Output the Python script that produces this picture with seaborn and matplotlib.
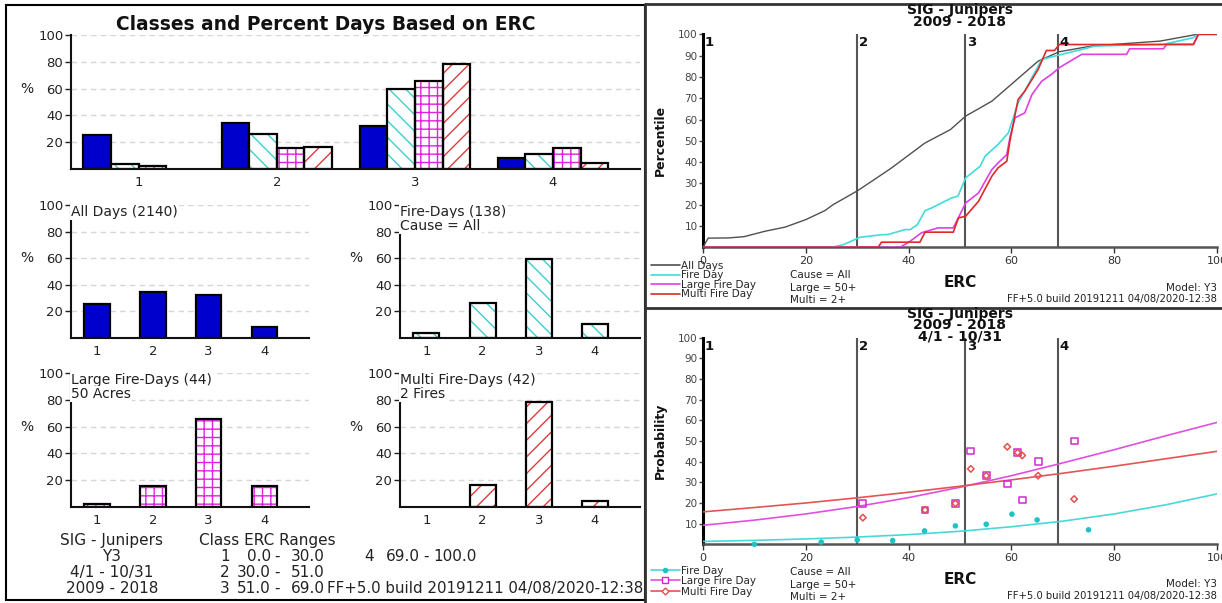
import matplotlib
matplotlib.use("Agg")
import matplotlib.pyplot as plt
from matplotlib.lines import Line2D
from matplotlib.patches import Rectangle
import pandas as pd
import seaborn as sns

# ---------------- data ----------------
station = "SIG - Junipers"
model = "Y3"
season = "4/1 - 10/31"
years = "2009 - 2018"
build_tag = "FF+5.0 build 20191211 04/08/2020-12:38"
large_acres = 50
multi_fires = 2

classes = ["1", "2", "3", "4"]
class_breaks = [0.0, 30.0, 51.0, 69.0, 100.0]

n_all_days = 2140
n_fire_days = 138
n_large_fire = 44
n_multi_fire = 42

# percent of days falling in each ERC class
pct_all_days = [25.5, 34.3, 32.0, 8.2]
pct_fire_days = [3.6, 26.1, 59.4, 10.9]
pct_large_fire = [2.3, 15.9, 65.9, 15.9]
pct_multi_fire = [0.0, 16.7, 78.6, 4.8]

# cumulative percentile vs ERC
erc_all = [0, 1, 5, 8, 12, 16, 20, 23.7, 25.3, 30.1, 35.3, 36.7, 43.2, 48.1,
           51.1, 56.2, 60.7, 65.2, 69.3, 75.6, 88.9, 96.2, 97.5]
pctl_all = [0, 4.3, 4.4, 5.0, 7.5, 9.5, 13.0, 17.2, 20.0, 26.6, 35.0, 37.3,
            49.0, 55.2, 61.6, 68.6, 78.0, 87.4, 91.8, 94.5, 96.8, 100, 100]

erc_fire = [0, 25.0, 27.4, 30.5, 34.8, 36.0, 39.3, 40.3, 41.7, 43.2, 44.6,
            46.4, 48.4, 49.6, 51.1, 53.9, 54.9, 57.4, 59.4, 61.3, 63.3, 65.9,
            69.3, 73.7, 76.3, 89.6, 95.4, 96.4, 100]
pctl_fire = [0, 0, 1.3, 4.7, 5.9, 6.0, 8.3, 8.3, 10.6, 17.2, 18.6, 20.8, 23.2,
             24.0, 32.6, 38.0, 42.8, 48.3, 53.7, 67.8, 76.5, 88.2, 90.3, 92.9,
             94.5, 95.3, 98.4, 100, 100]

erc_large = [0, 38.3, 40.0, 42.5, 45.7, 48.7, 50.3, 51.1, 53.6, 56.2, 57.4,
             59.1, 59.7, 60.7, 62.6, 64.0, 65.9, 67.8, 69.3, 72.0, 73.7, 82.4,
             83.0, 89.6, 90.2, 95.4, 96.4, 100]
pctl_large = [0, 0, 2.3, 6.8, 9.1, 9.1, 16.9, 20.8, 25.5, 36.5, 39.6, 43.5,
              51.4, 60.8, 63.1, 71.7, 78.0, 81.2, 84.3, 88.2, 90.6, 90.6, 93.2,
              93.2, 95.3, 95.3, 100, 100]

erc_multi = [0, 34.1, 34.7, 42.2, 43.2, 48.7, 49.7, 51.1, 53.6, 56.2, 57.4,
             59.1, 59.7, 61.3, 62.6, 65.2, 66.8, 68.4, 69.3, 95.4, 96.4, 100]
pctl_multi = [0, 0, 2.4, 2.4, 7.1, 7.1, 13.8, 14.6, 21.6, 33.4, 37.3, 40.4,
              49.8, 69.4, 73.3, 83.5, 92.4, 92.4, 95.2, 95.2, 100, 100]

# observed fire probability per ERC bin
obs_erc_fire = [10, 23, 30, 36.9, 43.1, 49.1, 55.1, 60.1, 65, 75]
obs_prob_fire = [0.0, 1.1, 2.1, 1.8, 6.5, 8.9, 9.7, 14.6, 11.8, 7.0]
obs_erc_large = [31, 43.2, 49.1, 52.1, 55.1, 59.2, 61.2, 62.1, 65.2, 72.2]
obs_prob_large = [19.8, 16.6, 19.8, 45.2, 33.2, 29.2, 44.4, 21.4, 39.9, 50.0]
obs_erc_multi = [31.1, 43.2, 49.1, 52.1, 55.1, 59.2, 61.2, 62.1, 65.2, 72.2]
obs_prob_multi = [12.9, 16.6, 19.8, 36.5, 33.2, 47.2, 44.4, 43.0, 33.2, 21.9]

# fitted probability curves
fit_erc = [0, 10, 20, 30, 40, 50, 60, 70, 80, 90, 100]
fit_prob_fire = [1.4, 1.9, 2.6, 3.5, 4.7, 6.3, 8.5, 11.2, 14.7, 19.1, 24.4]
fit_prob_large = [9.2, 11.7, 14.7, 18.3, 22.6, 27.6, 33.2, 39.4, 45.8, 52.5, 59.0]
fit_prob_multi = [15.7, 17.8, 20.0, 22.5, 25.2, 28.1, 31.2, 34.4, 37.8, 41.4, 45.0]

# ---------------- styling ----------------
W, H = 1222, 603
sns.set_theme(style="white")
plt.rcParams["font.family"] = ["DejaVu Sans"]
plt.rcParams["hatch.linewidth"] = 1.0

TXT = "#222222"
C_BLUE = "#0000CD"
C_CYAN = "#3CCFCF"
C_MAG = "#E020E0"
C_RED = "#E03C3C"

BAR_STYLES = {
    "All Days": dict(face=C_BLUE, hatch=None, hcolor=None),
    "Fire-Days": dict(face="white", hatch="\\\\", hcolor=C_CYAN),
    "Large Fire-Days": dict(face="white", hatch="++", hcolor=C_MAG),
    "Multi Fire-Days": dict(face="white", hatch="//", hcolor=C_RED),
}
series_order = list(BAR_STYLES)

fig = plt.figure(figsize=(W / 100, H / 100), dpi=100)
fig.patch.set_facecolor("white")


def px_axes(x0, y0, x1, y1):
    return fig.add_axes([x0 / W, 1 - y1 / H, (x1 - x0) / W, (y1 - y0) / H])


def ftext(x, y, s, **kw):
    kw.setdefault("ha", "left")
    kw.setdefault("va", "center")
    kw.setdefault("color", TXT)
    return fig.text(x / W, 1 - y / H, s, **kw)


def style_bars(ax, container, style):
    for bar in container:
        if style["hatch"] is None:
            bar.set_facecolor(style["face"])
            bar.set_edgecolor("black")
            bar.set_linewidth(1.6)
        else:
            bar.set_facecolor("white")
            bar.set_edgecolor(style["hcolor"])
            bar.set_hatch(style["hatch"])
            bar.set_linewidth(0)
            if bar.get_height() > 0:
                ax.add_patch(Rectangle(bar.get_xy(), bar.get_width(), bar.get_height(),
                                       fill=False, ec="black", lw=1.6,
                                       zorder=bar.get_zorder() + 0.1))


def format_bar_axes(ax, xlim):
    ax.set_xlim(*xlim)
    ax.set_ylim(0, 100)
    ax.set_yticks([20, 40, 60, 80, 100])
    ax.yaxis.grid(True, ls=(0, (4, 3)), color="#d6d6d6", lw=1.0)
    ax.xaxis.grid(False)
    ax.set_axisbelow(True)
    sns.despine(ax=ax)
    for s in ("left", "bottom"):
        ax.spines[s].set_linewidth(1.5)
        ax.spines[s].set_color("#111111")
    ax.tick_params(axis="x", bottom=False, length=0, pad=5, labelsize=9.5, colors=TXT)
    ax.tick_params(axis="y", left=True, length=4.5, width=1, pad=1, labelsize=9.5, colors=TXT)
    ax.set_xlabel("")
    ax.set_ylabel("")
    ax.annotate("%", xy=(0, 60), xycoords=("axes fraction", "data"), xytext=(-44, 0),
                textcoords="offset pixels", ha="center", va="center", fontsize=10,
                color=TXT, annotation_clip=False)


# ---------------- panel frames ----------------
fig.add_artist(Rectangle((6 / W, 1 - 600 / H), 639 / W, 595 / H, transform=fig.transFigure,
                         fill=False, ec="black", lw=1.5))
for xs, ys in [((645, 1222), (4, 4)), ((645, 1222), (308, 308)), ((645, 645), (4, 603))]:
    fig.add_artist(Line2D([x / W for x in xs], [1 - y / H for y in ys],
                          transform=fig.transFigure, color="#333333", lw=2))

# ---------------- grouped bar chart ----------------
dist_df = pd.DataFrame({
    "Class": classes * 4,
    "Percent": pct_all_days + pct_fire_days + pct_large_fire + pct_multi_fire,
    "Series": [s for s in series_order for _ in classes],
})
ax_main = px_axes(71, 35, 640, 169)
sns.barplot(data=dist_df, x="Class", y="Percent", hue="Series", hue_order=series_order,
            palette=[BAR_STYLES[s]["face"] for s in series_order], width=0.8,
            saturation=1, errorbar=None, legend=False, ax=ax_main)
for cont, name in zip(ax_main.containers, series_order):
    style_bars(ax_main, cont, BAR_STYLES[name])
format_bar_axes(ax_main, (-0.49, 3.63))
ftext(326, 24, "Classes and Percent Days Based on ERC", ha="center",
      fontweight="bold", fontsize=13.4, color="#111111")

# ---------------- single-series bar charts ----------------
small_specs = [
    ((71, 205, 309, 338), pct_all_days, "All Days", [f"All Days ({n_all_days})"]),
    ((400, 205, 640, 338), pct_fire_days, "Fire-Days", [f"Fire-Days ({n_fire_days})", "Cause = All"]),
    ((71, 373, 309, 507), pct_large_fire, "Large Fire-Days",
     [f"Large Fire-Days ({n_large_fire})", f"{large_acres} Acres"]),
    ((400, 373, 640, 507), pct_multi_fire, "Multi Fire-Days",
     [f"Multi Fire-Days ({n_multi_fire})", f"{multi_fires} Fires"]),
]
for box, vals, name, lines in small_specs:
    ax = px_axes(*box)
    sns.barplot(x=classes, y=vals, color=BAR_STYLES[name]["face"], width=0.46,
                saturation=1, errorbar=None, ax=ax)
    style_bars(ax, ax.containers[0], BAR_STYLES[name])
    format_bar_axes(ax, (-0.47, 3.8))
    for k, line in enumerate(lines):
        ax.annotate(line, xy=(0, 100), xycoords=("axes fraction", "data"),
                    xytext=(0, -7 - 14 * k), textcoords="offset pixels", ha="left",
                    va="center", fontsize=10, color=TXT, annotation_clip=False, zorder=10,
                    bbox=dict(boxstyle="square,pad=0.1", fc="white", ec="none"))

# ---------------- summary text ----------------
for y, s in zip([540.7, 556.7, 572.5, 588.5], [station, model, season, years]):
    ftext(112, y, s, ha="center", fontsize=11)
ftext(199, 540.7, "Class ERC Ranges", fontsize=11)
rows = [(225, 271, 277, 325, 556.7), (225, 271, 277, 325, 572.5),
        (225, 271, 277, 325, 588.5), (369, 420, 426, 477, 556.7)]
for k, (xc, xlo, xd, xhi, y) in enumerate(rows):
    ftext(xc, y, classes[k], ha="center", fontsize=11)
    ftext(xlo, y, f"{class_breaks[k]:.1f}", ha="right", fontsize=11)
    ftext(xd, y, "-", ha="center", fontsize=11)
    ftext(xhi, y, f"{class_breaks[k + 1]:.1f}", ha="right", fontsize=11)
ftext(327, 588.5, build_tag, fontsize=10.8)


# ---------------- ERC axes helpers ----------------
def format_erc_axes(ax):
    ax.set_xlim(0, 100)
    ax.set_ylim(0, 100)
    ax.set_xticks(range(0, 101, 20))
    ax.set_yticks(range(10, 101, 10))
    sns.despine(ax=ax)
    ax.spines["left"].set_linewidth(2.2)
    ax.spines["left"].set_color("black")
    ax.spines["bottom"].set_linewidth(1.8)
    ax.spines["bottom"].set_color("#555555")
    ax.tick_params(axis="y", left=True, length=3, width=1, pad=1, labelsize=7.5, colors="#444444")
    ax.tick_params(axis="x", bottom=True, length=4, width=1, pad=2, labelsize=8, colors="#333333")
    ax.set_xlabel("")
    ax.set_ylabel("")
    for k, b in enumerate(class_breaks[:4]):
        if k > 0:
            ax.axvline(b, color="#555555", lw=1.5, zorder=1.5)
        ax.annotate(classes[k], xy=(b, 100), xytext=(2, -2), textcoords="offset pixels",
                    ha="left", va="top", fontweight="bold", fontsize=9.5, color="#111111",
                    annotation_clip=False)


SMALL = 7.5

# ---------------- cumulative percentile chart ----------------
ax_pct = px_axes(703, 34.3, 1217, 247.3)
pct_series = [
    ("All Days", erc_all, pctl_all, "#505050", 1.0),
    ("Fire Day", erc_fire, pctl_fire, "#40DCDC", 1.2),
    ("Large Fire Day", erc_large, pctl_large, "#E040E0", 1.2),
    ("Multi Fire Day", erc_multi, pctl_multi, "#E02828", 1.2),
]
for name, xs, ys, c, lw in pct_series:
    sns.lineplot(x=xs, y=ys, color=c, lw=lw, estimator=None, sort=False, ax=ax_pct, zorder=3)
format_erc_axes(ax_pct)
ax_pct.legend([Line2D([], [], color=c, lw=1.2) for _, _, _, c, _ in pct_series],
              [n for n, *_ in pct_series], loc="upper left",
              bbox_to_anchor=(651 / W, 1 - 261 / H), bbox_transform=fig.transFigure,
              frameon=False, fontsize=SMALL, handlelength=2.75, handletextpad=0.15,
              labelspacing=-0.05, borderpad=0, borderaxespad=0)
ftext(960, 10, station, ha="center", fontweight="bold", fontsize=10, color="#111111")
ftext(960, 22, years, ha="center", fontweight="bold", fontsize=10, color="#111111")
ftext(660, 140, "Percentile", rotation=90, ha="center", fontweight="bold", fontsize=9, color="#111111")
ftext(960, 282.7, "ERC", ha="center", fontweight="bold", fontsize=11, color="#111111")
ftext(790, 275, "Cause = All", fontsize=SMALL)
ftext(790, 287.7, f"Large = {large_acres}+", fontsize=SMALL)
ftext(790, 300, f"Multi = {multi_fires}+", fontsize=SMALL)
ftext(1217, 287.7, f"Model: {model}", ha="right", fontsize=SMALL)
ftext(1217, 299, build_tag, ha="right", fontsize=7.2)

# ---------------- fire probability chart ----------------
ax_prob = px_axes(703, 337.7, 1217, 544.3)
fit_series = [
    (fit_prob_fire, "#48D8D8"),
    (fit_prob_large, "#E050E0"),
    (fit_prob_multi, "#E25555"),
]
for ys, c in fit_series:
    sns.lineplot(x=fit_erc, y=ys, color=c, lw=1.2, ax=ax_prob, zorder=3)

sns.scatterplot(x=obs_erc_fire, y=obs_prob_fire, marker="o", s=16, color="#1CC4C4",
                edgecolor="none", ax=ax_prob, zorder=4, clip_on=False)
open_marks = [
    (obs_erc_large, obs_prob_large, "s", 24, "#D02AD0"),
    (obs_erc_multi, obs_prob_multi, "D", 11, "#E25050"),
]
for xs, ys, m, s, c in open_marks:
    sns.scatterplot(x=xs, y=ys, marker=m, s=s, color=c, ax=ax_prob, zorder=5)
    coll = ax_prob.collections[-1]
    coll.set_facecolor("none")
    coll.set_edgecolor(c)
    coll.set_linewidth(1.1)
format_erc_axes(ax_prob)

prob_handles = [
    Line2D([], [], color="#48D8D8", lw=1.2, marker="o", ms=4, mfc="#1CC4C4", mec="none"),
    Line2D([], [], color="#E050E0", lw=1.2, marker="s", ms=5, mfc="white", mec="#D02AD0"),
    Line2D([], [], color="#E25555", lw=1.2, marker="D", ms=3.5, mfc="white", mec="#E25050"),
]
ax_prob.legend(prob_handles, ["Fire Day", "Large Fire Day", "Multi Fire Day"],
               loc="upper left", bbox_to_anchor=(651 / W, 1 - 565.5 / H),
               bbox_transform=fig.transFigure, frameon=False, fontsize=SMALL,
               handlelength=2.75, handletextpad=0.15, labelspacing=0.05, numpoints=1,
               borderpad=0, borderaxespad=0)
for y, s in zip([314, 325.3, 336], [station, years, season]):
    ftext(960, y, s, ha="center", fontweight="bold", fontsize=10, color="#111111")
ftext(660, 441, "Probability", rotation=90, ha="center", fontweight="bold", fontsize=9, color="#111111")
ftext(960, 580, "ERC", ha="center", fontweight="bold", fontsize=11, color="#111111")
ftext(790, 572, "Cause = All", fontsize=SMALL)
ftext(790, 584.6, f"Large = {large_acres}+", fontsize=SMALL)
ftext(790, 596.7, f"Multi = {multi_fires}+", fontsize=SMALL)
ftext(1217, 584.3, f"Model: {model}", ha="right", fontsize=SMALL)
ftext(1217, 596, build_tag, ha="right", fontsize=7.2)

fig.savefig("out.png", dpi=100, facecolor="white")
